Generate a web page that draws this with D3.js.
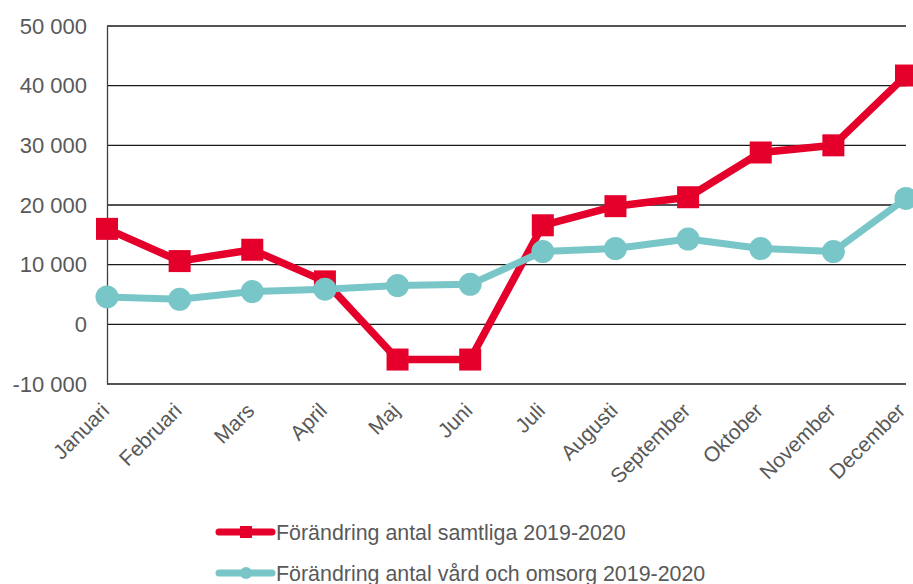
<!DOCTYPE html>
<html lang="sv">
<head>
<meta charset="utf-8">
<title>Förändring antal</title>
<script src="https://d3js.org/d3.v7.min.js"></script>
<style>
  body { margin: 0; background: #fff; }
  svg text { font-family: "Liberation Sans", Arial, sans-serif; fill: #595959; }
</style>
</head>
<body>
<div id="chart"></div>
<script>
var width = 913, height = 584;

var months = ["Januari", "Februari", "Mars", "April", "Maj", "Juni", "Juli",
  "Augusti", "September", "Oktober", "November", "December"];
var samtliga = [16000, 10600, 12500, 7200, -5900, -5900, 16600, 19800, 21300, 28800, 30000, 41700];
var vard = [4600, 4200, 5500, 5900, 6500, 6700, 12200, 12700, 14300, 12700, 12200, 21100];
var yTicks = [-10000, 0, 10000, 20000, 30000, 40000, 50000];
var seriesNames = ["Förändring antal samtliga 2019-2020", "Förändring antal vård och omsorg 2019-2020"];

var red = "#e4002b", teal = "#78c6c8";

var m = {top: 26, right: 7, bottom: 200, left: 107};
var w = width - m.left - m.right, h = height - m.top - m.bottom;

var svg = d3.select("#chart").append("svg")
  .attr("width", width).attr("height", height);
var g = svg.append("g").attr("transform", "translate(" + m.left + "," + m.top + ")");

var x = d3.scalePoint().domain(months).range([0, w]);
var y = d3.scaleLinear().domain([-10000, 50000]).range([h, 0]);

var fmt = function(d) { return d3.format(",")(d).replace(/,/g, " ").replace("−", "-"); };

// gridlines
g.append("g").selectAll("line")
  .data(yTicks).enter().append("line")
  .attr("x1", 0).attr("x2", w)
  .attr("y1", function(d) { return y(d); }).attr("y2", function(d) { return y(d); })
  .attr("stroke", "#1a1a1a").attr("stroke-width", 1.3);

// y axis
var yAxis = g.append("g")
  .call(d3.axisLeft(y).tickValues(yTicks).tickSize(0).tickPadding(20).tickFormat(fmt));
yAxis.select(".domain").attr("stroke", "#404040").attr("stroke-width", 1.3);
yAxis.selectAll("text").attr("font-size", 22).style("fill", "#595959");

// x axis labels
var xAxis = g.append("g")
  .attr("transform", "translate(0," + h + ")")
  .call(d3.axisBottom(x).tickSize(0).tickPadding(0));
xAxis.select(".domain").remove();
xAxis.selectAll("text")
  .attr("font-size", 21)
  .style("fill", "#595959")
  .style("text-anchor", "end")
  .attr("dy", "0")
  .attr("transform", function(d, i) { return "translate(" + (i === 11 ? 0 : 3) + ",28) rotate(-45)"; });

var line = d3.line().x(function(d, i) { return x(months[i]); }).y(function(d) { return y(d); });

g.append("path").datum(samtliga).attr("d", line)
  .attr("fill", "none").attr("stroke", red).attr("stroke-width", 7.5).attr("stroke-linejoin", "round");
g.append("path").datum(vard).attr("d", line)
  .attr("fill", "none").attr("stroke", teal).attr("stroke-width", 7).attr("stroke-linejoin", "round");

var sq = 22;
g.append("g").selectAll("rect").data(samtliga).enter().append("rect")
  .attr("x", function(d, i) { return x(months[i]) - sq / 2; })
  .attr("y", function(d) { return y(d) - sq / 2; })
  .attr("width", sq).attr("height", sq).attr("fill", red);

g.append("g").selectAll("circle").data(vard).enter().append("circle")
  .attr("cx", function(d, i) { return x(months[i]); })
  .attr("cy", function(d) { return y(d); })
  .attr("r", 11.5).attr("fill", teal);

// legend
var legend = svg.append("g").selectAll("g")
  .data(seriesNames).enter().append("g")
  .attr("transform", function(d, i) { return "translate(219," + (532 + i * 41) + ")"; });

legend.append("line")
  .attr("x1", 0).attr("x2", 53).attr("y1", 0).attr("y2", 0)
  .attr("stroke", function(d, i) { return i ? teal : red; })
  .attr("stroke-width", 7).attr("stroke-linecap", "round");
legend.filter(function(d, i) { return i === 0; }).append("rect")
  .attr("x", 21).attr("y", -6).attr("width", 12).attr("height", 12).attr("fill", red);
legend.filter(function(d, i) { return i === 1; }).append("circle")
  .attr("cx", 27).attr("cy", 0).attr("r", 6).attr("fill", teal);
legend.append("text")
  .attr("x", 57).attr("y", 0).attr("dy", "0.35em")
  .attr("font-size", 21.4)
  .text(function(d) { return d; });
</script>
</body>
</html>
